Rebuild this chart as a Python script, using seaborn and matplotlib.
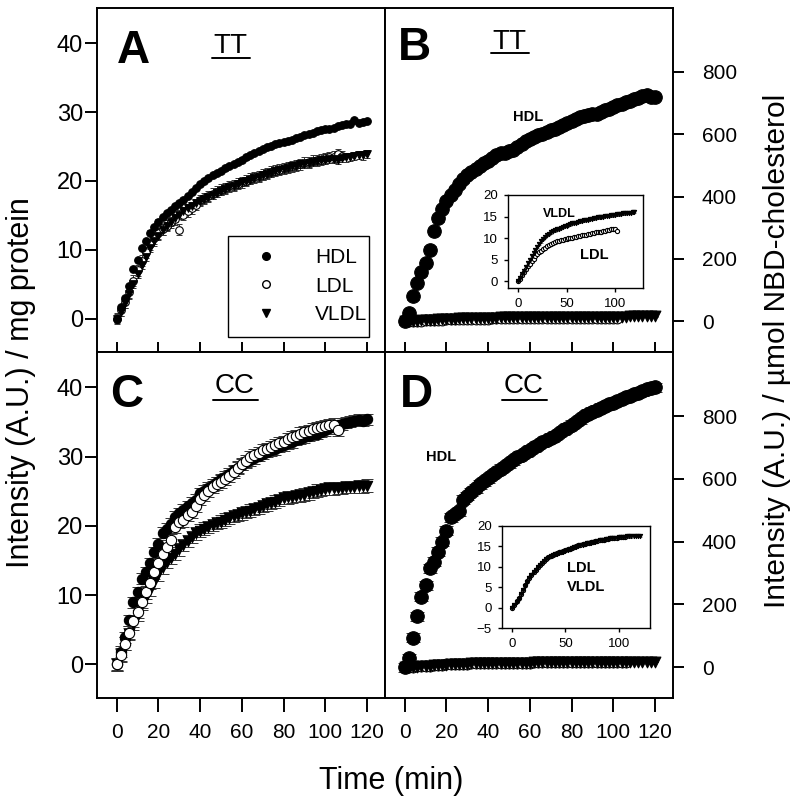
import numpy as np
import pandas as pd
import seaborn as sns
import matplotlib.pyplot as plt
from matplotlib.lines import Line2D

sns.set_style("ticks")
plt.rcParams['font.family'] = ['Liberation Sans', 'DejaVu Sans']
plt.rcParams['text.color'] = 'black'
plt.rcParams['axes.labelcolor'] = 'black'
plt.rcParams['xtick.color'] = 'black'
plt.rcParams['ytick.color'] = 'black'

# time points (min), every 2 min
time_min = [0, 2, 4, 6, 8, 10, 12, 14, 16, 18, 20, 22, 24, 26, 28, 30, 32, 34, 36, 38,
            40, 42, 44, 46, 48, 50, 52, 54, 56, 58, 60, 62, 64, 66, 68, 70, 72, 74, 76, 78,
            80, 82, 84, 86, 88, 90, 92, 94, 96, 98, 100, 102, 104, 106, 108, 110, 112, 114, 116, 118, 120]

# Panel A (TT, per mg protein)
a_hdl = [0.0, 1.7, 3.0, 4.7, 7.2, 8.5, 10.2, 11.3, 12.5, 13.3,
         14.1, 14.7, 15.3, 15.8, 16.3, 16.8, 17.2, 17.8, 18.4, 19.0,
         19.6, 20.0, 20.4, 20.8, 21.1, 21.4, 21.8, 22.2, 22.5, 22.8,
         23.1, 23.4, 23.7, 24.0, 24.3, 24.6, 24.9, 25.1, 25.3, 25.5,
         25.6, 25.8, 26.0, 26.2, 26.4, 26.6, 26.8, 27.0, 27.3, 27.4,
         27.5, 27.6, 27.7, 27.9, 28.1, 28.2, 28.3, 28.9, 28.4, 28.5, 28.7]
a_ldl = [0.0, 1.2, 2.4, 3.8, 5.5, 7.0, 8.4, 9.6, 10.8, 11.7,
         12.4, 13.0, 13.5, 14.0, 14.4, 12.9, 15.1, 15.6, 16.0, 16.5,
         17.2, 17.5, 17.8, 18.1, 18.4, 18.7, 18.9, 19.2, 19.4, 19.6,
         19.8, 20.0, 20.3, 20.5, 20.7, 20.9, 21.1, 21.3, 21.5, 21.6,
         21.8, 22.0, 22.1, 22.3, 22.4, 22.6, 22.7, 22.9, 23.0, 23.1,
         23.3, 23.4, 23.5, 23.9, 23.6]
a_vldl = [0.0, 1.0, 2.2, 3.5, 5.0, 6.5, 7.8, 9.0, 10.2, 11.2,
          12.0, 12.8, 13.5, 14.1, 14.6, 15.1, 15.6, 16.0, 16.4, 16.8,
          17.1, 17.4, 17.7, 18.0, 18.3, 18.6, 18.8, 19.1, 19.3, 19.5,
          19.8, 20.0, 20.2, 20.4, 20.6, 20.8, 21.0, 21.2, 21.4, 21.6,
          21.7, 21.9, 22.1, 22.2, 22.4, 22.5, 22.6, 22.7, 22.9, 23.0,
          23.1, 23.2, 23.2, 23.0, 23.3, 23.4, 23.5, 23.6, 23.8, 23.7, 23.9]

# Panel B (TT, per umol NBD-cholesterol)
b_hdl = [0, 28, 80, 123, 157, 187, 230, 290, 330, 360,
         385, 405, 420, 440, 455, 468, 478, 488, 497, 506,
         515, 524, 533, 538, 540, 545, 548, 560, 570, 578,
         583, 590, 597, 602, 607, 613, 618, 624, 629, 635,
         642, 650, 655, 658, 660, 663, 666, 670, 676, 682,
         687, 692, 697, 702, 707, 712, 716, 722, 726, 719, 718]
b_vldl = [0.0, 0.8, 1.6, 2.4, 3.2, 4.1, 4.9, 5.8, 6.5, 7.3,
          8.0, 8.6, 9.2, 9.8, 10.3, 10.7, 11.0, 11.3, 11.6, 11.8,
          12.0, 12.2, 12.4, 12.6, 12.8, 12.9, 13.1, 13.2, 13.4, 13.5,
          13.6, 13.8, 13.9, 14.0, 14.1, 14.2, 14.3, 14.4, 14.5, 14.6,
          14.7, 14.8, 14.8, 14.9, 15.0, 15.1, 15.1, 15.2, 15.3, 15.3,
          15.4, 15.5, 15.5, 15.6, 15.7, 15.7, 15.8, 15.9, 15.9, 16.0, 16.1]
b_ldl = [0.0, 0.6, 1.3, 2.0, 2.7, 3.4, 4.0, 4.6, 5.2, 5.8,
         6.3, 6.7, 7.1, 7.5, 7.8, 8.1, 8.4, 8.6, 8.8, 9.0,
         9.2, 9.3, 9.5, 9.6, 9.7, 9.8, 9.9, 10.0, 10.1, 10.2,
         10.3, 10.4, 10.5, 10.6, 10.7, 10.8, 10.9, 11.0, 11.1, 11.2,
         11.3, 11.4, 11.4, 11.5, 11.6, 11.7, 11.8, 11.9, 12.0, 12.0,
         12.1, 11.6]

# Panel C (CC, per mg protein)
c_hdl = [0.0, 1.8, 3.9, 6.4, 9.0, 10.4, 12.4, 13.3, 14.6, 16.2,
         17.4, 19.0, 19.6, 20.3, 21.3, 21.8, 22.3, 22.8, 23.3, 23.8,
         24.7, 25.1, 25.5, 25.9, 26.3, 26.7, 27.1, 27.5, 28.0, 28.4,
         28.8, 29.2, 29.5, 29.8, 30.1, 30.4, 30.7, 30.9, 31.1, 31.4,
         31.6, 31.9, 32.1, 32.4, 32.6, 32.8, 33.0, 33.2, 33.3, 33.6,
         33.8, 34.1, 34.3, 34.5, 34.7, 34.9, 35.0, 35.2, 35.3, 35.2, 35.4]
c_ldl = [0.0, 1.3, 3.0, 4.6, 6.3, 7.6, 9.0, 10.4, 11.8, 13.3,
         14.6, 16.0, 17.0, 17.9, 19.9, 20.6, 20.8, 21.6, 22.0, 22.9,
         23.9, 24.5, 25.1, 25.6, 26.1, 26.4, 26.8, 27.2, 27.8, 28.4,
         28.9, 29.4, 29.9, 30.2, 30.5, 30.9, 31.1, 31.4, 31.7, 31.9,
         32.1, 32.5, 32.8, 33.0, 33.3, 33.5, 33.7, 34.0, 34.1, 34.3,
         34.4, 34.5, 34.6, 33.9]
c_vldl = [0.0, 1.4, 3.0, 4.4, 5.9, 7.2, 8.7, 9.8, 10.8, 11.9,
          13.0, 14.0, 14.8, 15.4, 16.0, 16.6, 17.2, 17.8, 18.4, 18.9,
          19.3, 19.6, 19.8, 20.1, 20.4, 20.6, 20.9, 21.1, 21.4, 21.6,
          21.8, 22.0, 22.2, 22.4, 22.6, 22.9, 23.1, 23.3, 23.5, 23.7,
          24.0, 24.1, 24.2, 24.3, 24.4, 24.5, 24.7, 24.9, 25.1, 25.2,
          25.3, 25.4, 25.4, 25.5, 25.5, 25.6, 25.6, 25.6, 25.7, 25.7, 25.8]

# Panel D (CC, per umol NBD-cholesterol)
d_hdl = [0, 28, 94, 162, 224, 261, 315, 336, 368, 400,
         435, 477, 488, 496, 533, 545, 558, 570, 582, 592,
         602, 612, 622, 632, 641, 650, 659, 668, 676, 685,
         693, 700, 708, 716, 724, 731, 738, 746, 754, 763,
         772, 781, 790, 800, 807, 814, 820, 827, 832, 838,
         843, 848, 854, 860, 865, 869, 874, 879, 885, 888, 891]
d_ldl = [0.0, 0.7, 1.5, 2.4, 3.4, 4.4, 5.4, 6.4, 7.3, 8.0,
         8.7, 9.3, 9.9, 10.5, 11.0, 11.5, 11.9, 12.3, 12.6, 12.9,
         13.1, 13.3, 13.5, 13.6, 13.8, 14.0, 14.2, 14.4, 14.6, 14.8,
         15.0, 15.2, 15.3, 15.5, 15.6, 15.7, 15.9, 16.0, 16.1, 16.2,
         16.3, 16.4, 16.5, 16.6, 16.7, 16.8, 16.9, 17.0, 17.0, 17.1,
         17.2, 17.2, 17.3, 17.3]
d_vldl = [0.0, 0.6, 1.4, 2.2, 3.2, 4.2, 5.3, 6.3, 7.2, 7.9,
          8.6, 9.2, 9.8, 10.4, 10.9, 11.4, 11.9, 12.2, 12.5, 12.8,
          13.0, 13.2, 13.4, 13.6, 13.7, 13.9, 14.1, 14.3, 14.5, 14.7,
          14.9, 15.1, 15.3, 15.4, 15.6, 15.7, 15.8, 15.9, 16.0, 16.1,
          16.3, 16.4, 16.5, 16.6, 16.7, 16.8, 16.9, 17.0, 17.1, 17.1,
          17.2, 17.2, 17.3, 17.3, 17.4, 17.4, 17.4, 17.5, 17.5, 17.5, 17.6]

series_names = ["HDL", "LDL", "VLDL"]


def draw(ax, y, err, marker, face, size, cap=2.5, lw=0.7):
    t = time_min[:len(y)]
    ax.errorbar(t, y, yerr=err, fmt='none', ecolor='0.2', elinewidth=lw,
                capsize=cap, capthick=lw, zorder=2)
    sns.scatterplot(x=t, y=y, marker=marker, s=size, color=face,
                    edgecolor='black', linewidth=0.8, ax=ax, zorder=3, legend=False)


def frame(ax):
    for sp in ax.spines.values():
        sp.set_visible(True)
        sp.set_linewidth(1.4)
        sp.set_color('black')
    ax.set_xlim(-9.6, 128.6)
    ax.set_xticks([0, 20, 40, 60, 80, 100, 120])


fig = plt.figure(figsize=(8, 8.06), dpi=100)
axA = fig.add_axes([0.121, 0.5633, 0.36, 0.4267])
axB = fig.add_axes([0.481, 0.5633, 0.36, 0.4267])
axC = fig.add_axes([0.121, 0.1340, 0.36, 0.4293])
axD = fig.add_axes([0.481, 0.1340, 0.36, 0.4293])

# A
draw(axA, a_ldl, 0.8, 'o', 'white', 30)
draw(axA, a_vldl, 0.6, 'v', 'black', 30)
draw(axA, a_hdl, 0.3, 'o', 'black', 30)
# B
draw(axB, b_ldl, 0.5, 'o', 'white', 60)
draw(axB, b_vldl, 0.5, 'v', 'black', 60)
draw(axB, b_hdl, 10, 'o', 'black', 95, cap=4)
# C
draw(axC, c_vldl, 0.9, 'v', 'black', 55, cap=4)
draw(axC, c_hdl, 0.8, 'o', 'black', 55, cap=4)
draw(axC, c_ldl, 0.9, 'o', 'white', 55, cap=4)
# D
draw(axD, d_ldl, 0.5, 'o', 'white', 60)
draw(axD, d_vldl, 0.5, 'v', 'black', 60)
draw(axD, d_hdl, 14, 'o', 'black', 95, cap=5)

for ax in (axA, axB, axC, axD):
    frame(ax)

for ax in (axA, axC):
    ax.set_ylim(-4.85, 45.1)
    ax.set_yticks([0, 10, 20, 30, 40])
    ax.tick_params(axis='y', direction='out', length=9, width=1.4, labelsize=17, pad=1,
                   left=True, right=False)
for ax in (axB, axD):
    ax.set_ylim(-98, 1004)
    ax.set_yticks([0, 200, 400, 600, 800])
    ax.yaxis.tick_right()
    ax.tick_params(axis='y', direction='out', length=8, width=1.4, labelsize=15, pad=13,
                   left=False, right=True, labelleft=False, labelright=True)
for ax in (axA, axB):
    ax.tick_params(axis='x', direction='in', length=7, width=1.4, labelbottom=False)
for ax in (axC, axD):
    ax.tick_params(axis='x', direction='out', length=10, width=1.4, labelsize=15, pad=8)
for ax in (axA, axB, axC, axD):
    ax.set_xlabel('')
    ax.set_ylabel('')

# panel letters and underlined group names
panel_text = [(axA, 'A', 0.069, 0.840, 'TT', 0.465, 0.869, 0.855, 0.400, 0.531),
              (axB, 'B', 0.045, 0.849, 'TT', 0.434, 0.881, 0.868, 0.368, 0.500),
              (axC, 'C', 0.045, 0.841, 'CC', 0.479, 0.881, 0.861, 0.403, 0.559),
              (axD, 'D', 0.052, 0.841, 'CC', 0.483, 0.881, 0.861, 0.406, 0.563)]
for ax, letter, lx, ly, grp, gx, gy, uy, u0, u1 in panel_text:
    ax.text(lx, ly, letter, transform=ax.transAxes, fontsize=33, fontweight='bold',
            ha='left', va='baseline')
    ax.text(gx, gy, grp, transform=ax.transAxes, fontsize=20, ha='center', va='baseline')
    ax.plot([u0, u1], [uy, uy], transform=ax.transAxes, color='black', lw=1.4)

axB.text(59, 655, 'HDL', fontsize=10.5, fontweight='bold', ha='center', va='center')
axD.text(17.6, 670, 'HDL', fontsize=10.5, fontweight='bold', ha='center', va='center')

# legend in A
handles = [Line2D([], [], marker='o', color='black', ls='none', markersize=5.5),
           Line2D([], [], marker='o', color='black', mfc='white', ls='none', markersize=5.5),
           Line2D([], [], marker='v', color='black', ls='none', markersize=5.5)]
leg = axA.legend(handles, series_names, loc='lower left',
                 bbox_to_anchor=(0.455, 0.044, 0.489, 0.299), mode='expand',
                 frameon=True, fancybox=False, edgecolor='black', framealpha=1,
                 fontsize=15, labelspacing=0.46, handletextpad=1.1, borderpad=0.6,
                 handlelength=2.5, borderaxespad=0)
leg.get_frame().set_linewidth(1.0)

# insets
insB = fig.add_axes([0.635, 0.6427, 0.169, 0.1154])
draw(insB, b_ldl, 0.3, 'o', 'white', 9, cap=1.2, lw=0.4)
draw(insB, b_vldl, 0.3, 'v', 'black', 9, cap=1.2, lw=0.4)
insB.set_xlim(-10.3, 129)
insB.set_ylim(-1.6, 20)
insB.set_yticks([0, 5, 10, 15, 20])
insB.text(43, 15.5, 'VLDL', fontsize=9, fontweight='bold', ha='center', va='center')
insB.text(79, 6.0, 'LDL', fontsize=10.5, fontweight='bold', ha='center', va='center')

insD = fig.add_axes([0.627, 0.2208, 0.185, 0.1269])
draw(insD, d_ldl, 0.3, 'o', 'white', 9, cap=1.2, lw=0.4)
draw(insD, d_vldl, 0.3, 'v', 'black', 9, cap=1.2, lw=0.4)
insD.set_xlim(-10, 129)
insD.set_ylim(-5, 20)
insD.set_yticks([-5, 0, 5, 10, 15, 20])
insD.text(65, 9.6, 'LDL', fontsize=10.5, fontweight='bold', ha='center', va='center')
insD.text(69.7, 5.1, 'VLDL', fontsize=10.5, fontweight='bold', ha='center', va='center')

for ins in (insB, insD):
    for sp in ins.spines.values():
        sp.set_visible(True)
        sp.set_linewidth(1.0)
        sp.set_color('black')
    ins.set_xticks([0, 50, 100])
    ins.tick_params(direction='out', length=3, width=1.0, labelsize=9.5, pad=4,
                    top=False, right=False)
    ins.set_xlabel('')
    ins.set_ylabel('')

fig.text(0.026, 0.525, 'Intensity (A.U.) / mg protein', rotation=90,
         ha='center', va='center', fontsize=22)
fig.text(0.971, 0.565, 'Intensity (A.U.) / \u00b5mol NBD-cholesterol', rotation=90,
         ha='center', va='center', fontsize=21.5)
fig.text(0.489, 0.031, 'Time (min)', ha='center', va='center', fontsize=22)

fig.savefig('out.png', dpi=100)
